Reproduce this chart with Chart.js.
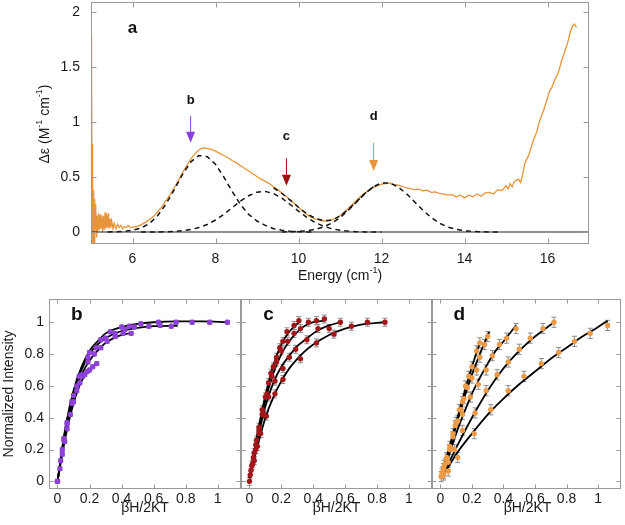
<!DOCTYPE html>
<html><head><meta charset="utf-8">
<script src="https://cdn.jsdelivr.net/npm/chart.js@4/dist/chart.umd.min.js"></script>
<style>
html,body{margin:0;padding:0;background:#fff;width:625px;height:525px;overflow:hidden}
canvas{position:absolute}
</style></head><body>
<canvas id="ca" width="625" height="290" style="left:0;top:0"></canvas>
<canvas id="cb" width="245" height="235" style="left:0;top:290px"></canvas>
<canvas id="cc" width="200" height="235" style="left:236px;top:290px"></canvas>
<canvas id="cd" width="198" height="235" style="left:427px;top:290px"></canvas>
<script>
// ---------- Panel a : MCD spectrum ----------
const energy = [5.00,5.005,5.01,5.015,5.02,5.025,5.03,5.035,5.04,5.045,5.05,5.06,5.07,5.08,5.09,5.10,5.11,5.12,5.135,5.15,5.165,5.18,5.20,5.22,5.24,5.26,5.28,5.30,5.32,5.34,5.36,5.38,5.40,5.42,5.44,5.46,5.48,5.50,5.53,5.56,5.60,5.64,5.68,5.72,5.76,5.80,5.85,5.90,5.95,6.00,
6.1,6.2,6.3,6.4,6.5,6.6,6.7,6.8,6.9,7.0,7.1,7.2,7.3,7.4,7.5,7.6,7.7,7.8,7.9,8.0,8.1,8.2,8.3,8.4,8.5,8.6,8.7,8.8,8.9,9.0,9.1,9.2,9.3,9.4,9.5,9.6,9.7,9.8,9.9,10.0,
10.1,10.2,10.3,10.4,10.5,10.6,10.7,10.8,10.9,11.0,11.1,11.2,11.3,11.4,11.5,11.6,11.7,11.8,11.9,12.0,12.1,12.2,12.3,12.4,12.5,12.6,12.7,12.8,12.9,13.0,
13.1,13.2,13.3,13.4,13.5,13.6,13.7,13.8,13.9,14.0,14.1,14.2,14.3,14.4,14.5,14.6,14.7,14.8,14.9,15.0,15.05,15.1,15.15,15.2,15.3,15.35,15.4,15.45,15.5,15.55,
15.6,15.65,15.7,15.75,15.8,15.85,15.9,15.95,16.0,16.05,16.1,16.15,16.2,16.25,16.3,16.35,16.4,16.45,16.5,16.55,16.6,16.65,16.7];
const deltaEps = [0.30,1.10,1.80,0.90,1.55,0.40,-0.10,0.80,0.05,0.45,-0.10,0.38,-0.05,0.30,-0.10,0.25,0.02,0.20,-0.05,0.15,0.00,0.17,0.02,0.16,0.03,0.14,0.00,0.15,0.02,0.18,0.03,0.16,0.04,0.17,0.03,0.12,0.04,0.10,0.03,0.08,0.03,0.07,0.04,0.06,0.03,0.05,0.04,0.06,0.04,0.045,
0.05,0.065,0.085,0.11,0.14,0.18,0.225,0.28,0.335,0.40,0.465,0.535,0.60,0.66,0.71,0.745,0.765,0.76,0.75,0.735,0.715,0.695,0.675,0.65,0.63,0.605,0.58,0.555,0.53,0.505,0.48,0.46,0.44,0.41,0.385,0.355,0.325,0.29,0.26,0.225,
0.19,0.16,0.135,0.12,0.11,0.10,0.10,0.11,0.125,0.15,0.18,0.215,0.25,0.29,0.325,0.355,0.38,0.405,0.42,0.435,0.44,0.445,0.43,0.425,0.415,0.40,0.395,0.385,0.39,0.375,
0.38,0.36,0.365,0.35,0.345,0.335,0.34,0.32,0.335,0.31,0.335,0.32,0.345,0.325,0.355,0.36,0.345,0.385,0.375,0.42,0.39,0.44,0.41,0.46,0.48,0.45,0.52,0.62,0.66,0.70,
0.76,0.82,0.87,0.92,1.00,1.05,1.10,1.16,1.22,1.28,1.31,1.36,1.40,1.44,1.50,1.57,1.62,1.68,1.74,1.82,1.87,1.89,1.86];

const g1E = [5.4,5.6,5.8,6.0,6.2,6.4,6.6,6.8,7.0,7.2,7.4,7.6,7.8,8.0,8.2,8.4,8.6,8.8,9.0,9.2,9.4,9.6,9.8,10.0,10.2,10.4];
const g1V = [0.001,0.003,0.006,0.015,0.035,0.075,0.145,0.25,0.38,0.52,0.635,0.695,0.685,0.615,0.50,0.37,0.25,0.16,0.10,0.06,0.03,0.015,0.007,0.003,0.001,0];
const g2E = [6.2,6.4,6.6,6.8,7.0,7.2,7.4,7.6,7.8,8.0,8.2,8.4,8.6,8.8,9.0,9.2,9.4,9.6,9.8,10.0,10.2,10.4,10.6,10.8,11.0,11.2,11.4,11.6,11.8,12.0];
const g2V = [0,0,0.001,0.002,0.005,0.011,0.022,0.04,0.068,0.109,0.16,0.22,0.28,0.33,0.362,0.369,0.349,0.307,0.25,0.19,0.133,0.087,0.053,0.03,0.016,0.008,0.003,0.001,0,0];
const g3E = [9.6,9.8,10.0,10.2,10.4,10.6,10.8,11.0,11.2,11.4,11.6,11.8,12.0,12.2,12.4,12.6,12.8,13.0,13.2,13.4,13.6,13.8,14.0,14.2,14.4,14.6,14.8];
const g3V = [0,0.002,0.005,0.011,0.024,0.045,0.08,0.131,0.197,0.273,0.349,0.41,0.446,0.446,0.41,0.349,0.273,0.197,0.131,0.08,0.045,0.024,0.011,0.005,0.002,0,0];
const sumE = [9.4,9.6,9.8,10.0,10.2,10.4,10.6,10.8,11.0,11.2,11.4,11.6,11.8];
const sumV = [0.40,0.35,0.29,0.225,0.165,0.125,0.103,0.108,0.145,0.205,0.276,0.350,0.410];

const eTicks = [6,8,10,12,14,16];
const deTicks = [0,0.5,1,1.5,2];
const arrowE = [7.40,9.71,11.81];
const arrowFrom = [1.055,0.67,0.81];
const arrowTo = [0.81,0.42,0.555];
const arrowLabels = ['b','c','d'];
const arrowLabelY = [1.20,0.87,1.05];
const arrowColors = ['#8a3fe0','#9e1010','#e8943a'];

// ---------- Panels b, c, d : saturation magnetisation ----------
const bhTicks = [0,0.2,0.4,0.6,0.8,1];
const niTicks = [0,0.2,0.4,0.6,0.8,1];

const bPtX = [
 [0,0.015,0.03,0.045,0.06,0.08,0.10,0.12,0.14,0.155,0.17,0.185,0.20,0.22,0.245],
 [0,0.02,0.04,0.06,0.09,0.12,0.15,0.19,0.23,0.27,0.31,0.36,0.41,0.46],
 [0,0.03,0.06,0.10,0.14,0.19,0.24,0.30,0.36,0.42,0.48,0.57,0.64,0.71],
 [0,0.04,0.09,0.135,0.20,0.27,0.33,0.40,0.45,0.52,0.63,0.74,0.84,0.95,1.06]];
const bPtY = [
 [0,0.08,0.17,0.25,0.33,0.42,0.50,0.57,0.62,0.66,0.67,0.69,0.70,0.72,0.74],
 [0,0.13,0.26,0.36,0.49,0.60,0.67,0.75,0.80,0.84,0.88,0.91,0.93,0.93],
 [0,0.20,0.37,0.54,0.66,0.78,0.84,0.90,0.93,0.955,0.97,0.975,0.98,0.975],
 [0,0.27,0.50,0.66,0.81,0.89,0.94,0.97,0.975,0.99,1.00,1.00,1.00,1.00,1.00]];
const bFitX = [
 [0,0.05,0.10,0.15,0.20,0.25],
 [0,0.05,0.10,0.15,0.20,0.25,0.30,0.35,0.40,0.47],
 [0,0.05,0.10,0.15,0.20,0.25,0.30,0.40,0.50,0.60,0.75],
 [0,0.05,0.10,0.15,0.20,0.25,0.30,0.40,0.50,0.60,0.75,0.90,1.06]];
const bFitY = [
 [0,0.28,0.49,0.63,0.70,0.745],
 [0,0.30,0.53,0.67,0.76,0.82,0.87,0.90,0.92,0.935],
 [0,0.33,0.56,0.70,0.80,0.86,0.90,0.945,0.965,0.975,0.978],
 [0,0.34,0.57,0.72,0.82,0.88,0.93,0.97,0.99,1.00,1.005,1.005,1.00]];
const bErr = [0.012,0.012,0.012,0.012];

const cPtX = [
 [0,0.015,0.03,0.045,0.06,0.08,0.10,0.12,0.135,0.15,0.17,0.19,0.21,0.235,0.28,0.31],
 [0.01,0.025,0.04,0.06,0.08,0.11,0.14,0.17,0.20,0.24,0.28,0.32,0.37,0.42,0.47],
 [0.02,0.04,0.06,0.09,0.12,0.16,0.21,0.25,0.29,0.36,0.43,0.50,0.57],
 [0.005,0.03,0.05,0.07,0.106,0.16,0.21,0.32,0.42,0.53,0.64,0.74,0.85]];
const cPtY = [
 [0,0.10,0.18,0.26,0.34,0.45,0.53,0.62,0.68,0.72,0.78,0.84,0.88,0.94,0.98,1.01],
 [0.07,0.15,0.23,0.32,0.42,0.55,0.66,0.75,0.82,0.88,0.93,0.96,1.00,1.01,1.02],
 [0.11,0.20,0.30,0.42,0.53,0.63,0.71,0.78,0.83,0.89,0.96,0.96,1.00],
 [0.04,0.13,0.22,0.30,0.41,0.55,0.64,0.77,0.87,0.925,0.975,1.00,1.00]];
const cFitX = [
 [0,0.05,0.10,0.15,0.20,0.25,0.31],
 [0,0.05,0.10,0.15,0.20,0.25,0.30,0.35,0.40,0.47],
 [0,0.05,0.10,0.15,0.20,0.25,0.30,0.35,0.40,0.45,0.50,0.57],
 [0,0.05,0.10,0.15,0.20,0.25,0.30,0.35,0.40,0.50,0.60,0.70,0.85]];
const cFitY = [
 [0.02,0.30,0.54,0.73,0.86,0.94,1.00],
 [0.02,0.28,0.51,0.68,0.80,0.88,0.94,0.98,1.00,1.01],
 [0.02,0.26,0.47,0.62,0.72,0.79,0.85,0.89,0.93,0.96,0.98,1.00],
 [0.02,0.22,0.40,0.53,0.63,0.71,0.77,0.82,0.86,0.92,0.96,0.985,1.00]];
const cErr = [0.025,0.025,0.025,0.025];

const dPtX = [
 [0.01,0.025,0.04,0.06,0.08,0.10,0.12,0.14,0.16,0.18,0.20,0.23,0.25],
 [0.005,0.02,0.04,0.06,0.08,0.11,0.13,0.15,0.17,0.20,0.23,0.25,0.28,0.30],
 [0.015,0.03,0.06,0.094,0.14,0.19,0.24,0.29,0.33,0.375,0.42,0.48],
 [0.02,0.05,0.09,0.14,0.22,0.29,0.36,0.43,0.50,0.57,0.65,0.72],
 [0.02,0.05,0.11,0.215,0.32,0.43,0.53,0.64,0.75,0.85,0.95,1.06]];
const dPtY = [
 [0.05,0.10,0.15,0.22,0.30,0.37,0.45,0.50,0.60,0.66,0.72,0.82,0.87],
 [0.03,0.08,0.14,0.20,0.28,0.38,0.45,0.52,0.59,0.65,0.70,0.78,0.86,0.91],
 [0.06,0.11,0.20,0.35,0.42,0.53,0.61,0.70,0.79,0.86,0.90,0.96],
 [0.05,0.12,0.20,0.32,0.43,0.57,0.67,0.75,0.83,0.90,0.96,1.00],
 [0.04,0.065,0.15,0.30,0.45,0.57,0.66,0.74,0.81,0.88,0.93,0.98]];
const dFitX = [
 [0,0.05,0.10,0.15,0.20,0.25],
 [0,0.05,0.10,0.15,0.20,0.25,0.31],
 [0,0.05,0.10,0.15,0.20,0.25,0.30,0.35,0.40,0.48],
 [0,0.05,0.10,0.20,0.30,0.40,0.50,0.60,0.72],
 [0,0.05,0.10,0.20,0.30,0.40,0.50,0.60,0.70,0.80,0.90,1.00,1.06]];
const dFitY = [
 [0.02,0.19,0.37,0.55,0.72,0.87],
 [0.02,0.17,0.35,0.52,0.67,0.80,0.94],
 [0.02,0.15,0.30,0.43,0.55,0.65,0.74,0.82,0.88,0.98],
 [0.02,0.11,0.21,0.40,0.57,0.71,0.82,0.91,1.00],
 [0.02,0.09,0.17,0.30,0.42,0.52,0.61,0.69,0.77,0.84,0.91,0.97,1.01]];
const dErr = [0.032,0.032,0.032,0.032,0.032];

// ---------- drawing helpers ----------
const FONT = "'Liberation Sans', Arial, Helvetica, sans-serif";
Chart.defaults.font.family = FONT;
Chart.defaults.color = '#1a1a1a';

function richText(ctx, segs, cx, cy, rot) {
  ctx.save();
  ctx.translate(cx, cy);
  if (rot) ctx.rotate(rot);
  let total = 0;
  segs.forEach(s => { ctx.font = s.size + 'px ' + FONT; s.w = ctx.measureText(s.t).width; total += s.w; });
  let x = -total / 2;
  ctx.textBaseline = 'middle';
  ctx.textAlign = 'left';
  ctx.fillStyle = '#1a1a1a';
  segs.forEach(s => { ctx.font = s.size + 'px ' + FONT; ctx.fillText(s.t, x, s.dy || 0); x += s.w; });
  ctx.restore();
}

const deco = {
  id: 'deco',
  beforeDatasetsDraw(chart, args, o) {
    const ctx = chart.ctx, xs = chart.scales.x, ys = chart.scales.y;
    ctx.save();
    ctx.strokeStyle = '#8c8c8c';
    ctx.lineWidth = 1;
    chart.data.datasets.forEach(ds => {
      if (ds.errBar === undefined) return;
      ds.data.forEach(p => {
        const px = xs.getPixelForValue(p.x);
        const y1 = ys.getPixelForValue(p.y - ds.errBar), y2 = ys.getPixelForValue(p.y + ds.errBar);
        ctx.beginPath();
        ctx.moveTo(px, y1); ctx.lineTo(px, y2);
        ctx.moveTo(px - 2.5, y1); ctx.lineTo(px + 2.5, y1);
        ctx.moveTo(px - 2.5, y2); ctx.lineTo(px + 2.5, y2);
        ctx.stroke();
      });
    });
    ctx.restore();
  },
  afterDraw(chart, args, o) {
    const ctx = chart.ctx, a = chart.chartArea, xs = chart.scales.x, ys = chart.scales.y;
    ctx.save();
    ctx.strokeStyle = '#9a9a9a';
    ctx.lineWidth = 1;
    const L = Math.round(a.left) + 0.5, R = Math.round(a.right) - 0.5, T = Math.round(a.top) + 0.5, B = Math.round(a.bottom) - 0.5;
    ctx.strokeRect(L, T, R - L, B - T);
    const tl = o.tickLen || 5;
    ctx.beginPath();
    (o.xt || []).forEach(v => { const p = Math.round(xs.getPixelForValue(v)) + 0.5; ctx.moveTo(p, T); ctx.lineTo(p, T + tl); ctx.moveTo(p, B); ctx.lineTo(p, B - tl); });
    (o.yt || []).forEach(v => { const p = Math.round(ys.getPixelForValue(v)) + 0.5; ctx.moveTo(L, p); ctx.lineTo(L + tl, p); ctx.moveTo(R, p); ctx.lineTo(R - tl, p); });
    ctx.stroke();
    (o.arrows || []).forEach(ar => {
      const px = xs.getPixelForValue(ar.x), yTop = ys.getPixelForValue(ar.from), yTip = ys.getPixelForValue(ar.to);
      ctx.strokeStyle = ar.color; ctx.fillStyle = ar.color; ctx.lineWidth = 1;
      ctx.beginPath(); ctx.moveTo(px, yTop); ctx.lineTo(px, yTip - 9); ctx.stroke();
      ctx.beginPath(); ctx.moveTo(px - 4.5, yTip - 11); ctx.lineTo(px + 4.5, yTip - 11); ctx.lineTo(px, yTip); ctx.closePath(); ctx.fill();
      ctx.fillStyle = '#111'; ctx.font = 'bold 13px ' + FONT; ctx.textAlign = 'center'; ctx.textBaseline = 'middle';
      ctx.fillText(ar.label, px, ys.getPixelForValue(ar.labelY));
    });
    (o.texts || []).forEach(t => {
      ctx.fillStyle = '#111'; ctx.font = t.font; ctx.textAlign = 'center'; ctx.textBaseline = 'middle';
      ctx.fillText(t.t, xs.getPixelForValue(t.x), ys.getPixelForValue(t.y));
    });
    (o.titles || []).forEach(t => richText(ctx, t.segs, t.cx, t.cy, t.rot));
    ctx.restore();
  }
};

function noPad(s) { s.paddingLeft = 0; s.paddingRight = 0; s.paddingTop = 0; s.paddingBottom = 0; }
function baseScale(min, max, ticks, extra) {
  return Object.assign({
    type: 'linear', min, max,
    afterBuildTicks: s => { s.ticks = ticks.map(v => ({ value: v })); },
    grid: { display: false, drawTicks: false },
    border: { display: false },
    ticks: { font: { size: 14 }, color: '#1a1a1a', callback: v => String(v), maxRotation: 0, autoSkip: false }
  }, extra);
}

const toPts = (xs, ys) => xs.map((x, i) => ({ x, y: ys[i] }));
const dashed = (xs, ys) => ({ data: toPts(xs, ys), showLine: true, borderColor: '#111', borderWidth: 1.5, borderDash: [5, 4], pointRadius: 0, order: 1 });

// ---------- chart a ----------
new Chart(document.getElementById('ca'), {
  type: 'scatter',
  data: { datasets: [
    { data: [{ x: 5, y: 0 }, { x: 17, y: 0 }], showLine: true, borderColor: '#222', borderWidth: 1.2, pointRadius: 0, order: 0 },
    dashed(g1E, g1V), dashed(g2E, g2V), dashed(g3E, g3V), dashed(sumE, sumV),
    { data: toPts(energy, deltaEps), showLine: true, borderColor: '#e8943a', borderWidth: 1.3, pointRadius: 0, order: 2 }
  ] },
  options: {
    responsive: false, animation: false, events: [],
    layout: { padding: { left: 0, right: 36, top: 2, bottom: 0 } },
    plugins: { legend: { display: false }, tooltip: { enabled: false },
      deco: {
        xt: eTicks, yt: deTicks, tickLen: 5,
        arrows: arrowE.map((x, i) => ({ x, from: arrowFrom[i], to: arrowTo[i], color: arrowColors[i], label: arrowLabels[i], labelY: arrowLabelY[i] })),
        texts: [{ t: 'a', x: 6.0, y: 1.85, font: 'bold 17px ' + FONT }],
        titles: [
          { segs: [{ t: 'Energy (cm', size: 14 }, { t: '-1', size: 9, dy: -5 }, { t: ')', size: 14 }], cx: 340, cy: 276 },
          { segs: [{ t: 'Δε (M', size: 14 }, { t: '-1', size: 9, dy: -5 }, { t: ' cm', size: 14 }, { t: '-1', size: 9, dy: -5 }, { t: ')', size: 14 }], cx: 45, cy: 124, rot: -Math.PI / 2 }
        ]
      } },
    scales: {
      x: baseScale(5, 17, eTicks, { afterFit: s => { s.height = 46; noPad(s); }, ticks: { font: { size: 14 }, color: '#1a1a1a', padding: 7, callback: v => String(v), maxRotation: 0, autoSkip: false } }),
      y: baseScale(-0.109, 2.09, deTicks, { afterFit: s => { s.width = 91; noPad(s); }, ticks: { font: { size: 14 }, color: '#1a1a1a', padding: 11, callback: v => String(v), autoSkip: false } })
    }
  },
  plugins: [deco]
});

// ---------- charts b, c, d ----------
function panel(id, letter, color, px, py, fx, fy, err, showY, pad, titles) {
  const ds = [];
  fx.forEach((xs, i) => ds.push({ data: toPts(xs, fy[i]), showLine: true, borderColor: '#000', borderWidth: 1.8, pointRadius: 0, cubicInterpolationMode: 'monotone', order: 1 }));
  px.forEach((xs, i) => ds.push({ data: toPts(xs, py[i]), showLine: false, pointRadius: 2.7, pointStyle: 'circle', backgroundColor: color, borderColor: color, borderWidth: 0, errBar: err[i], order: 0 }));
  new Chart(document.getElementById(id), {
    type: 'scatter',
    data: { datasets: ds },
    options: {
      responsive: false, animation: false, events: [],
      layout: { padding: pad },
      plugins: { legend: { display: false }, tooltip: { enabled: false },
        deco: { xt: bhTicks, yt: niTicks, tickLen: 4,
          texts: [{ t: letter, x: 0.12, y: 1.045, font: 'bold 19px ' + FONT }],
          titles: titles } },
      scales: {
        x: baseScale(-0.053, 1.145, bhTicks, { afterFit: s => { s.height = 36; noPad(s); }, ticks: { font: { size: 14 }, color: '#1a1a1a', padding: 2, callback: v => String(v), maxRotation: 0, autoSkip: false } }),
        y: baseScale(-0.048, 1.146, niTicks, showY ? { afterFit: s => { s.width = 49; noPad(s); }, ticks: { font: { size: 14 }, color: '#1a1a1a', padding: 5, callback: v => String(v), autoSkip: false } } : { display: false })
      }
    },
    plugins: [deco]
  });
}
const bhTitle = [{ t: 'βH/2KT', size: 14 }];
panel('cb', 'b', '#8d41d8', bPtX, bPtY, bFitX, bFitY, bErr, true, { left: 0, right: 4, top: 9, bottom: 0 },
  [{ segs: bhTitle, cx: 145, cy: 218 }, { segs: [{ t: 'Normalized Intensity', size: 14 }], cx: 9, cy: 104, rot: -Math.PI / 2 }]);
panel('cc', 'c', '#a3161a', cPtX, cPtY, cFitX, cFitY, cErr, false, { left: 5, right: 4, top: 9, bottom: 0 },
  [{ segs: bhTitle, cx: 100.5, cy: 218 }]);
panel('cd', 'd', '#ec9a45', dPtX, dPtY, dFitX, dFitY, dErr, false, { left: 5, right: 2, top: 9, bottom: 0 },
  [{ segs: bhTitle, cx: 100.5, cy: 218 }]);
</script>
</body></html>
